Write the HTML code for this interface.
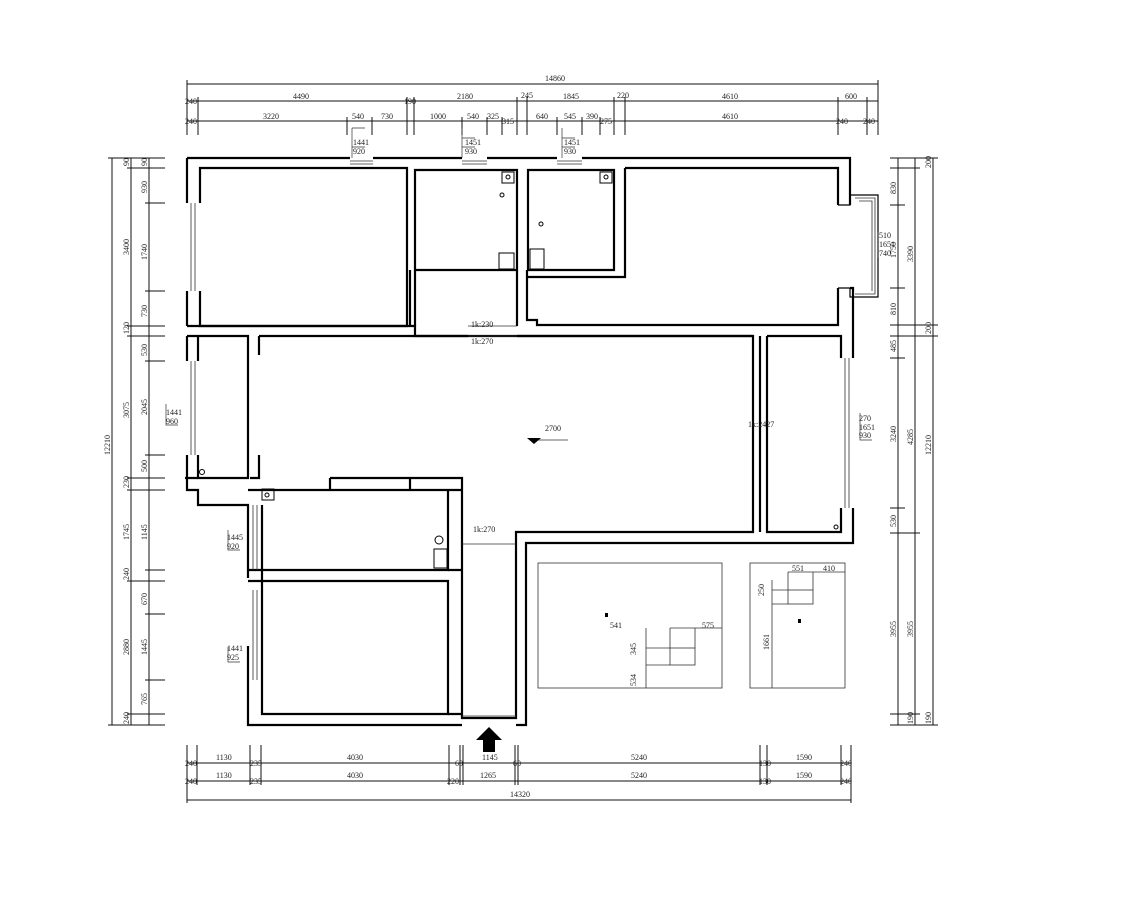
<!DOCTYPE html>
<html><head><meta charset="utf-8"><style>
html,body{margin:0;padding:0;background:#fff;}
svg{display:block;}
text{font-family:"Liberation Serif",serif;font-size:8px;fill:#222;}
</style></head><body>
<svg width="1125" height="900" viewBox="0 0 1125 900" xmlns="http://www.w3.org/2000/svg">
<g stroke="#111" stroke-width="1" fill="none">
<line x1="187" y1="84" x2="878" y2="84"/>
<line x1="187" y1="101" x2="878" y2="101"/>
<line x1="187" y1="121" x2="878" y2="121"/>
<line x1="187" y1="80" x2="187" y2="135"/><line x1="878" y1="80" x2="878" y2="135"/>
<line x1="198" y1="97" x2="198" y2="135"/><line x1="407" y1="97" x2="407" y2="135"/><line x1="414" y1="97" x2="414" y2="135"/>
<line x1="517" y1="97" x2="517" y2="135"/><line x1="527" y1="97" x2="527" y2="135"/><line x1="614" y1="97" x2="614" y2="135"/><line x1="625" y1="97" x2="625" y2="135"/>
<line x1="838" y1="97" x2="838" y2="135"/><line x1="867" y1="97" x2="867" y2="135"/>
<line x1="347" y1="117" x2="347" y2="135"/><line x1="372" y1="117" x2="372" y2="135"/><line x1="462" y1="117" x2="462" y2="135"/><line x1="487" y1="117" x2="487" y2="135"/><line x1="502" y1="117" x2="502" y2="135"/><line x1="557" y1="117" x2="557" y2="135"/><line x1="582" y1="117" x2="582" y2="135"/><line x1="600" y1="117" x2="600" y2="135"/>
<line x1="187" y1="763" x2="851" y2="763"/>
<line x1="187" y1="781" x2="851" y2="781"/>
<line x1="187" y1="800" x2="851" y2="800"/>
<line x1="187" y1="745" x2="187" y2="803"/><line x1="851" y1="745" x2="851" y2="803"/>
<line x1="197" y1="745" x2="197" y2="785"/><line x1="250" y1="745" x2="250" y2="785"/><line x1="261" y1="745" x2="261" y2="785"/>
<line x1="449" y1="745" x2="449" y2="785"/><line x1="460" y1="745" x2="460" y2="785"/><line x1="463" y1="745" x2="463" y2="785"/>
<line x1="515" y1="745" x2="515" y2="785"/><line x1="518" y1="745" x2="518" y2="785"/>
<line x1="760" y1="745" x2="760" y2="785"/><line x1="767" y1="745" x2="767" y2="785"/><line x1="841" y1="745" x2="841" y2="785"/>
<line x1="112" y1="158" x2="112" y2="725"/>
<line x1="131" y1="158" x2="131" y2="725"/>
<line x1="149" y1="158" x2="149" y2="725"/>
<line x1="108" y1="158" x2="165" y2="158"/><line x1="108" y1="725" x2="165" y2="725"/>
<line x1="127" y1="168" x2="165" y2="168"/><line x1="145" y1="203" x2="165" y2="203"/><line x1="145" y1="291" x2="165" y2="291"/>
<line x1="127" y1="326" x2="165" y2="326"/><line x1="127" y1="336" x2="165" y2="336"/><line x1="145" y1="361" x2="165" y2="361"/><line x1="145" y1="455" x2="165" y2="455"/>
<line x1="127" y1="478" x2="165" y2="478"/><line x1="127" y1="490" x2="165" y2="490"/><line x1="145" y1="570" x2="165" y2="570"/><line x1="127" y1="581" x2="165" y2="581"/>
<line x1="145" y1="614" x2="165" y2="614"/><line x1="145" y1="680" x2="165" y2="680"/><line x1="127" y1="714" x2="165" y2="714"/>
<line x1="898" y1="158" x2="898" y2="725"/>
<line x1="915" y1="158" x2="915" y2="725"/>
<line x1="933" y1="158" x2="933" y2="725"/>
<line x1="890" y1="158" x2="938" y2="158"/><line x1="890" y1="725" x2="938" y2="725"/>
<line x1="890" y1="168" x2="920" y2="168"/><line x1="890" y1="205" x2="905" y2="205"/><line x1="890" y1="288" x2="905" y2="288"/>
<line x1="890" y1="325" x2="938" y2="325"/><line x1="890" y1="336" x2="938" y2="336"/><line x1="890" y1="358" x2="905" y2="358"/>
<line x1="890" y1="508" x2="905" y2="508"/><line x1="890" y1="533" x2="920" y2="533"/><line x1="890" y1="714" x2="920" y2="714"/>
</g>
<text x="545" y="81">14860</text>
<text x="185" y="104">240</text><text x="293" y="99">4490</text><text x="404" y="104">190</text><text x="457" y="99">2180</text><text x="521" y="98">245</text><text x="563" y="99">1845</text><text x="617" y="98">220</text><text x="722" y="99">4610</text><text x="845" y="99">600</text>
<text x="185" y="124">240</text><text x="263" y="119">3220</text><text x="352" y="119">540</text><text x="381" y="119">730</text><text x="430" y="119">1000</text><text x="467" y="119">540</text><text x="487" y="119">325</text><text x="502" y="124">315</text><text x="536" y="119">640</text><text x="564" y="119">545</text><text x="586" y="119">390</text><text x="600" y="124">275</text><text x="722" y="119">4610</text><text x="836" y="124">240</text><text x="863" y="124">240</text>
<text x="185" y="766">240</text><text x="216" y="760">1130</text><text x="250" y="766">235</text><text x="347" y="760">4030</text><text x="455" y="766">60</text><text x="482" y="760">1145</text><text x="513" y="766">60</text><text x="631" y="760">5240</text><text x="759" y="766">130</text><text x="796" y="760">1590</text><text x="840" y="766">240</text>
<text x="185" y="784">240</text><text x="216" y="778">1130</text><text x="250" y="784">235</text><text x="347" y="778">4030</text><text x="447" y="784">220</text><text x="480" y="778">1265</text><text x="631" y="778">5240</text><text x="759" y="784">130</text><text x="796" y="778">1590</text><text x="840" y="784">240</text>
<text x="510" y="797">14320</text>
<g>
<text transform="translate(110,455) rotate(-90)">12210</text>
<text transform="translate(129,255) rotate(-90)">3400</text><text transform="translate(129,418) rotate(-90)">3075</text><text transform="translate(129,540) rotate(-90)">1745</text><text transform="translate(129,655) rotate(-90)">2880</text>
<text transform="translate(147,193) rotate(-90)">930</text><text transform="translate(147,260) rotate(-90)">1740</text><text transform="translate(147,317) rotate(-90)">730</text><text transform="translate(147,356) rotate(-90)">530</text><text transform="translate(147,415) rotate(-90)">2045</text><text transform="translate(147,472) rotate(-90)">500</text><text transform="translate(147,540) rotate(-90)">1145</text><text transform="translate(147,605) rotate(-90)">670</text><text transform="translate(147,655) rotate(-90)">1445</text><text transform="translate(147,705) rotate(-90)">765</text>
<text transform="translate(129,488) rotate(-90)">230</text><text transform="translate(129,166) rotate(-90)">90</text><text transform="translate(147,166) rotate(-90)">90</text><text transform="translate(129,334) rotate(-90)">120</text><text transform="translate(129,580) rotate(-90)">240</text><text transform="translate(129,724) rotate(-90)">240</text>
</g>
<g>
<text transform="translate(931,455) rotate(-90)">12210</text>
<text transform="translate(913,262) rotate(-90)">3390</text><text transform="translate(913,445) rotate(-90)">4285</text><text transform="translate(913,637) rotate(-90)">3955</text>
<text transform="translate(896,194) rotate(-90)">830</text><text transform="translate(896,258) rotate(-90)">1750</text><text transform="translate(896,315) rotate(-90)">810</text><text transform="translate(896,352) rotate(-90)">485</text><text transform="translate(896,442) rotate(-90)">3240</text><text transform="translate(896,527) rotate(-90)">530</text><text transform="translate(896,637) rotate(-90)">3955</text>
<text transform="translate(931,168) rotate(-90)">200</text><text transform="translate(931,334) rotate(-90)">200</text><text transform="translate(913,724) rotate(-90)">190</text><text transform="translate(931,724) rotate(-90)">190</text>
</g>
<g stroke="#000" stroke-width="2.2" fill="none" stroke-linejoin="miter">
<path d="M187,158 H350 M373,158 H462 M487,158 H557 M582,158 H850 V205 M850,288 H853 V358 M853,508 V543 H526 V725 H516 M462,725 H248 V646 M248,578 V505 H198 V490 H187 V455 M187,361 V336 M187,326 V291 M187,203 V158"/>
<path d="M838,205 H850 V195 H878 V297 H850 V288 M838,288 H850" stroke-width="1.2"/>
<path d="M200,203 V168 H407 V326 H200 V291"/>
<path d="M415,180 V170 H517 V270 H415 V180"/>
<path d="M528,170 H614 V270 H528 Z"/>
<path d="M625,168 H838 V205 M838,288 V325 H537 V320 H527 V282 M527,277 H625 V168"/>
<path d="M259,336 H753 V532 H516 V718 H462 V478 H330 M259,336 V355 M259,455 V478 H250"/>
<path d="M198,336 V361 M198,455 V478 H248 V336 H198 M187,336 H198 M187,326 H415 V336 H468 M517,336 H753"/>
<path d="M410,326 V270 M415,270 V326 M517,270 V326 M527,270 V282"/>
<path d="M767,336 H841 V358 M841,508 V532 H767 V336 M760,336 V532"/>
<path d="M262,490 H448 V570 H262 V505 M448,490 H462"/>
<path d="M262,581 H448 V714 H262 Z"/>
<path d="M248,490 H262 M248,570 H262 V581 H248 M448,570 H462 M448,714 H462"/>
<path d="M330,478 V490 M410,478 V490 M185,478 H198"/>
</g>
<g stroke="#333" stroke-width="0.8" fill="none">
<path d="M191,203 V291 M195,203 V291 M191,361 V455 M195,361 V455"/>
<path d="M253,505 V570 M257,505 V570 M253,590 V680 M257,590 V680"/>
<path d="M845,358 V508 M849,358 V508"/>
<path d="M350,161 H373 M350,164 H373 M462,161 H487 M462,164 H487 M557,161 H582 M557,164 H582"/>
<path d="M462,716 H516 M468,326 H517 M468,336 H517 M462,544 H516"/>
<path d="M855,198 H875 V294 H855 M859,201 H872 V291"/>
<rect x="538" y="563" width="184" height="125"/>
<rect x="750" y="563" width="95" height="125"/>
<rect x="670" y="648" width="25" height="17"/>
<rect x="788" y="590" width="25" height="14"/>
<path d="M646,628 V688 M646,648 H670 M646,665 H670 M670,628 H722 M670,628 V648 M695,628 V648"/>
<path d="M772,580 V688 M772,590 H788 M772,604 H788 M788,572 H845 M788,572 V590 M813,572 V590"/>
<line x1="530" y1="440" x2="568" y2="440"/>
</g>
<text x="610" y="628">541</text><text x="702" y="628">575</text><text x="792" y="571">551</text><text x="823" y="571">410</text>
<text transform="translate(636,655) rotate(-90)">345</text><text transform="translate(636,686) rotate(-90)">534</text><text transform="translate(764,596) rotate(-90)">250</text><text transform="translate(769,650) rotate(-90)">1661</text>
<polygon points="527,438 541,438 534,444" fill="#000"/>
<text x="545" y="431">2700</text>
<text x="471" y="327">1k:230</text><text x="471" y="344">1k:270</text><text x="748" y="427">1k:2427</text><text x="473" y="532">1k:270</text>
<g stroke="#000" stroke-width="1" fill="none">
<rect x="502" y="172" width="12" height="11"/><circle cx="508" cy="177" r="2"/>
<rect x="600" y="172" width="12" height="11"/><circle cx="606" cy="177" r="2"/>
<rect x="499" y="253" width="15" height="16"/><rect x="530" y="249" width="14" height="20"/>
<circle cx="502" cy="195" r="2"/><circle cx="541" cy="224" r="2"/>
<rect x="262" y="489" width="12" height="11"/><circle cx="267" cy="495" r="2"/>
<circle cx="439" cy="540" r="4"/><rect x="434" y="549" width="13" height="19"/>
<circle cx="202" cy="472" r="2.5"/><circle cx="836" cy="527" r="2"/>
</g>
<g stroke="#333" stroke-width="0.7" fill="none">
<path d="M352,128 V158 M352,128 H365 M352,147 H365 M462,128 V158 M462,138 H475 M462,147 H475 M562,128 V158 M562,138 H575 M562,147 H575"/>
<path d="M228,530 V550 H240 M228,647 V662 H240 M166,404 V425 H178 M860,413 V440 H872 M878,232 V258"/>
</g>
<g style="font-size:5px">
<text x="353" y="145">1441</text><text x="353" y="154">920</text><text x="465" y="145">1451</text><text x="465" y="154">930</text><text x="564" y="145">1451</text><text x="564" y="154">930</text>
<text x="227" y="540">1445</text><text x="227" y="549">920</text><text x="227" y="651">1441</text><text x="227" y="660">925</text><text x="166" y="415">1441</text><text x="166" y="424">960</text>
<text x="859" y="421">270</text><text x="859" y="430">1651</text><text x="859" y="438">930</text><text x="879" y="238">510</text><text x="879" y="247">1651</text><text x="879" y="256">740</text>
</g>
<polygon points="489,727 502,740 495,740 495,752 483,752 483,740 476,740" fill="#000"/>
<rect x="605" y="613" width="3" height="4" fill="#000"/><rect x="798" y="619" width="3" height="4" fill="#000"/>
</svg>
</body></html>
